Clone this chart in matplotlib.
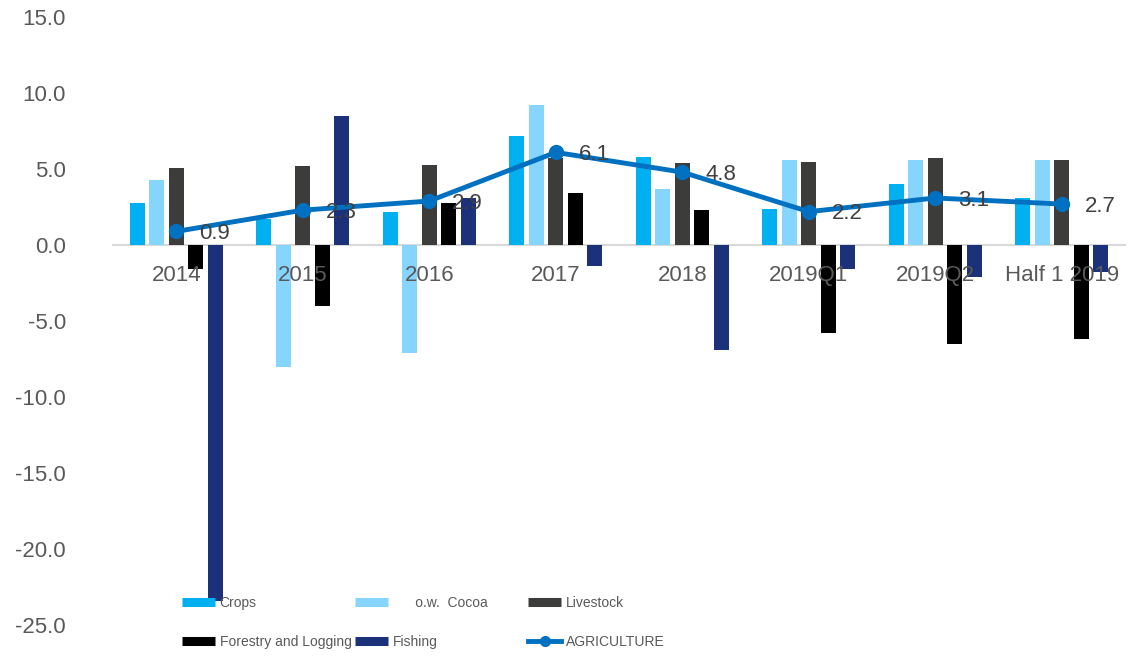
import numpy as np
import matplotlib
matplotlib.use('Agg')
from matplotlib import pyplot as plt
from matplotlib.lines import Line2D

plt.rcParams['font.family'] = ['Liberation Sans', 'DejaVu Sans']
plt.rcParams['axes.unicode_minus'] = False

# data
periods = ['2014', '2015', '2016', '2017', '2018', '2019Q1', '2019Q2', 'Half 1 2019']
crops = [2.8, 1.7, 2.2, 7.2, 5.8, 2.4, 4.0, 3.1]
cocoa = [4.3, -8.0, -7.1, 9.2, 3.7, 5.6, 5.6, 5.6]
livestock = [5.1, 5.2, 5.3, 5.7, 5.4, 5.5, 5.7, 5.6]
forestry = [-1.6, -4.0, 2.8, 3.4, 2.3, -5.8, -6.5, -6.2]
fishing = [-23.4, 8.5, 3.1, -1.4, -6.9, -1.6, -2.1, -1.8]
agriculture = [0.9, 2.3, 2.9, 6.1, 4.8, 2.2, 3.1, 2.7]

bar_series = [crops, cocoa, livestock, forestry, fishing]
bar_names = ['Crops', '      o.w.  Cocoa', 'Livestock', 'Forestry and Logging', 'Fishing']
bar_colors = ['#00B0F0', '#85D5FF', '#3C3C3B', '#000000', '#1B327A']
line_color = '#0070C0'

fig = plt.figure(figsize=(11.3, 6.58), dpi=100)
ax = fig.add_axes([0.1, 0.05, 0.8956, 0.924])

x = np.arange(len(periods))
pitch = 0.1534
width = 0.119
for i in range(len(bar_series)):
    ax.bar(x + (i - 2) * pitch, bar_series[i], width, color=bar_colors[i], zorder=1)

ax.plot(x, agriculture, color=line_color, lw=3.5, marker='o', markersize=10, zorder=3)
for xi, v in zip(x, agriculture):
    ax.annotate('%.1f' % v, (xi, v), xytext=(16.5, -1.5), textcoords='offset points',
                ha='left', va='center', fontsize=16, color='#404040', zorder=4)

ax.set_xlim(-0.5, 7.5)
ax.set_ylim(-25, 15)
ax.set_yticks(np.arange(-25, 16, 5))
ax.set_yticklabels(['%.1f' % t for t in np.arange(-25, 16, 5)])
ax.set_xticks(x)
ax.set_xticklabels(periods)

for s in ['top', 'right', 'left']:
    ax.spines[s].set_visible(False)
ax.spines['bottom'].set_position(('data', 0))
ax.spines['bottom'].set_color('#D9D9D9')
ax.spines['bottom'].set_linewidth(1.5)
ax.spines['bottom'].set_zorder(0.5)

ax.tick_params(axis='x', length=0, pad=14, labelsize=16, labelcolor='#595959')
ax.tick_params(axis='y', length=0, pad=34, labelsize=16, labelcolor='#595959')

# legend: three columns placed like the original (row-major)
handles = [Line2D([], [], color=c, lw=6.5, solid_capstyle='butt') for c in bar_colors]
handles.append(Line2D([], [], color=line_color, lw=3.5, marker='o', markersize=7))
labels = bar_names + ['AGRICULTURE']
columns = [[0, 3], [1, 4], [2, 5]]
col_x = [182, 355, 528]
for col, cx in zip(columns, col_x):
    fig.legend([handles[k] for k in col], [labels[k] for k in col],
               frameon=False, fontsize=10, labelcolor='#595959', loc='upper left',
               bbox_to_anchor=(cx / 1130, 1 - 596 / 658), borderpad=0, borderaxespad=0,
               handlelength=2.4, handletextpad=0.3, labelspacing=1.8)

fig.savefig('out.png', dpi=100)
